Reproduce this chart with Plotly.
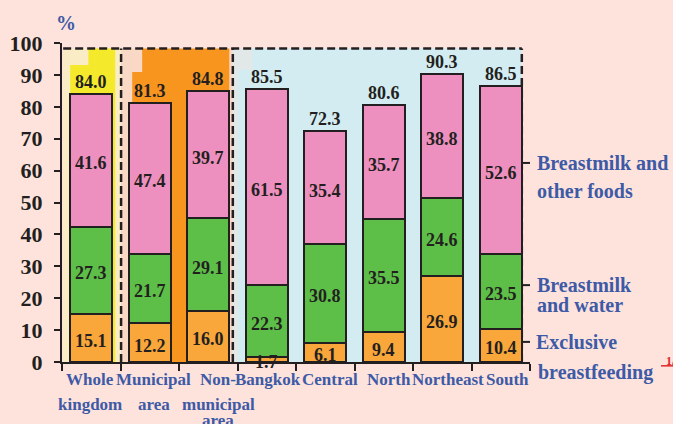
import plotly.graph_objects as go

# Breastfeeding practices by area (% of infants)
categories = ["Whole kingdom", "Municipal area", "Non-municipal area",
              "Bangkok", "Central", "North", "Northeast", "South"]
tick_lines = [["Whole", "kingdom"], ["Municipal", "area"], ["Non-", "municipal", "area"],
              ["Bangkok"], ["Central"], ["North"], ["Northeast"], ["South"]]
exclusive = [15.1, 12.2, 16.0, 1.7, 6.1, 9.4, 26.9, 10.4]
water = [27.3, 21.7, 29.1, 22.3, 30.8, 35.5, 24.6, 23.5]
other_foods = [41.6, 47.4, 39.7, 61.5, 35.4, 35.7, 38.8, 52.6]
totals = [84.0, 81.3, 84.8, 85.5, 72.3, 80.6, 90.3, 86.5]
y_ticks = [0, 10, 20, 30, 40, 50, 60, 70, 80, 90, 100]

SERIF = "Liberation Serif, Times New Roman, serif"
INK = "#231f20"
BLUE = "#3d5aa6"
BG = "#fde3dc"

fig = go.Figure()

series = [
    ("Exclusive breastfeeding", exclusive, "#f9a63a"),
    ("Breastmilk and water", water, "#5dbf48"),
    ("Breastmilk and other foods", other_foods, "#ee90bf"),
]
for name, vals, color in series:
    fig.add_trace(go.Bar(
        x=categories, y=vals, name=name, width=0.72,
        marker=dict(color=color, line=dict(color=INK, width=2)),
        showlegend=False, hoverinfo="skip",
    ))

annotations = []
# values inside each segment
for i, cat in enumerate(categories):
    base = 0.0
    for _, vals, _ in series:
        v = vals[i]
        annotations.append(dict(
            x=cat, y=base + v / 2, text=f"{v:.1f}", showarrow=False,
            yshift=-3, font=dict(family=SERIF, size=18, color=INK, weight="bold")))
        base += v
    annotations.append(dict(
        x=cat, y=totals[i], text=f"{totals[i]:.1f}", showarrow=False,
        yanchor="middle", yshift=12, font=dict(family=SERIF, size=18, color=INK, weight="bold")))

# category labels under the axis
label_xshift = [-1, 4, 10, 1, 5, 5, 6, 7]
line_yshift = [-17, -42, -58]
for i, lines in enumerate(tick_lines):
    for j, line in enumerate(lines):
        annotations.append(dict(
            x=categories[i], y=0, text=line, showarrow=False,
            yanchor="middle", xshift=label_xshift[i], yshift=line_yshift[j],
            font=dict(family=SERIF, size=17, color=BLUE, weight="bold")))

# series names at the right
legend_items = [
    ("Breastmilk and", 62.4, 0), ("other foods", 53.6, 0),
    ("Breastmilk", 24.1, 0), ("and water", 17.9, 0),
    ("Exclusive", 6.3, 0), ("breastfeeding", 0, -10),
]
legend_dx = [5, 5, 5, 5, 4, 6]
for (text, yv, dy), dx in zip(legend_items, legend_dx):
    annotations.append(dict(
        x=7.5, y=yv, xref="x", yref="y", text=text, showarrow=False,
        xanchor="left", yanchor="middle", xshift=dx, yshift=dy,
        font=dict(family=SERIF, size=20, color=BLUE, weight="bold")))
annotations.append(dict(
    x=7.5, y=0, text="1/", showarrow=False, xanchor="left", yanchor="middle",
    xshift=134, yshift=1, font=dict(family=SERIF, size=12, color="#e0262b", weight="bold")))
annotations.append(dict(
    x=-0.5, y=100, text="%", showarrow=False, xanchor="left", yanchor="middle",
    xshift=-8, yshift=20, font=dict(family=SERIF, size=20, color=BLUE, weight="bold")))

shapes = []


def rect(x0, x1, y0, y1, color):
    shapes.append(dict(type="rect", xref="x", yref="y", x0=x0, x1=x1, y0=y0, y1=y1,
                       fillcolor=color, line=dict(width=0), layer="below"))


TOP = 98.3
# whole kingdom panel
rect(-0.48, 0.51, 0, TOP, "#faecc4")
rect(-0.36, 0.41, 0, 93.1, "#f5e92b")
rect(-0.05, 0.41, 93.1, TOP, "#f5e92b")
# municipal / non-municipal panel
rect(0.51, 2.42, 0, TOP, "#f9d9c6")
rect(0.70, 2.36, 0, 90.9, "#f7951f")
rect(0.87, 2.36, 90.9, TOP, "#f7951f")
# regional panel
rect(2.42, 7.36, 0, TOP, "#e2e8e8")
rect(2.51, 7.36, 0, 91.5, "#d3ecf1")
rect(2.75, 7.36, 91.5, TOP, "#d3ecf1")

dash = dict(color=INK, width=2.5, dash="8px,4px")
shapes.append(dict(type="line", xref="x", yref="y", x0=-0.48, x1=7.36, y0=TOP, y1=TOP,
                   line=dash, layer="below"))
for xv in (0.51, 2.42, 7.36):
    shapes.append(dict(type="line", xref="x", yref="y", x0=xv, x1=xv, y0=0, y1=TOP,
                       line=dash, layer="below"))
# pointer ticks toward the series names
for yv in (62.4, 24.1, 6.3):
    shapes.append(dict(type="line", xref="x", yref="y", x0=7.36, x1=7.5, y0=yv, y1=yv,
                       line=dict(color=INK, width=2)))
# footnote rule
shapes.append(dict(type="line", xref="paper", yref="paper", x0=1.28, x1=1.31,
                   y0=-0.012, y1=-0.012, line=dict(color="#e0262b", width=1.5)))

fig.update_layout(
    barmode="stack",
    width=673, height=424,
    margin=dict(l=62, r=143, t=43, b=62, autoexpand=False),
    paper_bgcolor=BG, plot_bgcolor="rgba(0,0,0,0)",
    annotations=annotations, shapes=shapes,
    xaxis=dict(
        type="category", range=[-0.5, 7.5], showticklabels=False, automargin=False,
        showline=True, linecolor=INK, linewidth=2, showgrid=False, zeroline=False,
        ticks="outside", tickson="boundaries", ticklen=7, tickwidth=2, tickcolor=INK,
    ),
    yaxis=dict(
        range=[0, 100], tickvals=y_ticks, showline=True, linecolor=INK, linewidth=2,
        showgrid=False, zeroline=False, ticks="outside", ticklen=6, tickwidth=2,
        tickcolor=INK, ticklabelstandoff=7, automargin=False,
        tickfont=dict(family=SERIF, size=22, color=INK, weight="bold"),
    ),
)

fig.write_html("out.html")
